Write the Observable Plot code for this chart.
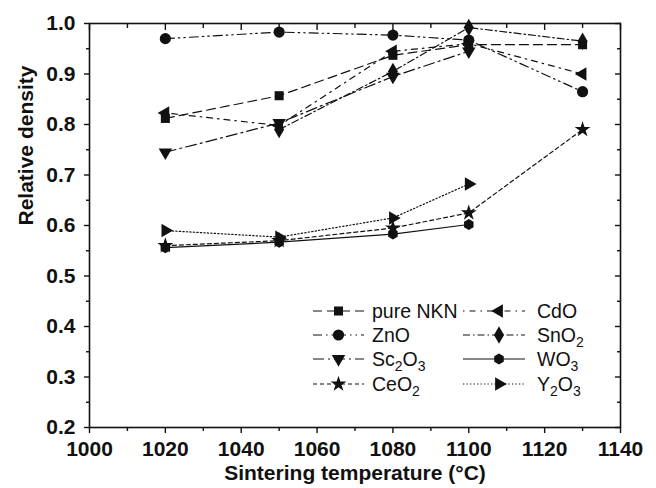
<!DOCTYPE html>
<html>
<head>
<meta charset="utf-8">
<script src="https://cdn.jsdelivr.net/npm/d3@7"></script>
<script src="https://cdn.jsdelivr.net/npm/@observablehq/plot@0.6"></script>
<style>
html,body{margin:0;padding:0;background:#fff;}
svg{display:block;}
</style>
</head>
<body>
<div id="chart"></div>
<script>
// ---- data ----
const temps = [1020, 1050, 1080, 1100, 1130];
const pureNKN = [0.812, 0.857, 0.937, 0.958, 0.958];
const ZnO     = [0.970, 0.983, 0.977, 0.967, 0.865];
const Sc2O3   = [0.745, 0.803, 0.895, 0.945, null];
const CeO2    = [0.560, 0.570, 0.595, 0.625, 0.790];
const CdO     = [0.823, 0.798, 0.945, 0.960, 0.900];
const SnO2    = [null, 0.790, 0.905, 0.992, 0.965];
const WO3     = [0.556, 0.567, 0.583, 0.602, null];
const Y2O3    = [0.590, 0.577, 0.615, 0.682, null];

const xTicks = [1000, 1020, 1040, 1060, 1080, 1100, 1120, 1140];
const xMinor = [1010, 1030, 1050, 1070, 1090, 1110, 1130];
const yTicks = [0.2, 0.3, 0.4, 0.5, 0.6, 0.7, 0.8, 0.9, 1.0];
const yMinor = [0.25, 0.35, 0.45, 0.55, 0.65, 0.75, 0.85, 0.95];

const xLabel = "Sintering temperature (\u00B0C)";
const yLabel = "Relative density";

const hexagon = {
  draw(ctx, size) {
    const r = Math.sqrt(size / (3 * Math.sqrt(3) / 2));
    for (let i = 0; i < 6; i++) {
      const a = Math.PI / 3 * i + Math.PI / 6;
      const px = r * Math.cos(a), py = r * Math.sin(a);
      if (i === 0) ctx.moveTo(px, py); else ctx.lineTo(px, py);
    }
    ctx.closePath();
  }
};

const series = [
  {name: "pure NKN", label: [["pure NKN"]], values: pureNKN, dash: "9,5", symbol: d3.symbolSquare, rotate: 0, r: 5.1},
  {name: "ZnO", label: [["ZnO"]], values: ZnO, dash: "9,4,1.5,4,1.5,4", symbol: d3.symbolCircle, rotate: 0, r: 5.6},
  {name: "Sc2O3", label: [["Sc"],["2","sub"],["O"],["3","sub"]], values: Sc2O3, dash: "11,4,2,4", symbol: d3.symbolTriangle, rotate: 180, r: 5.0},
  {name: "CeO2", label: [["CeO"],["2","sub"]], values: CeO2, dash: "4,3", symbol: d3.symbolStar, rotate: 0, r: 5.0},
  {name: "CdO", label: [["CdO"]], values: CdO, dash: "1.5,5,6,5", symbol: d3.symbolTriangle, rotate: -90, r: 5.0},
  {name: "SnO2", label: [["SnO"],["2","sub"]], values: SnO2, dash: "7,3,1.5,3", symbol: d3.symbolDiamond, rotate: 0, r: 5.3},
  {name: "WO3", label: [["WO"],["3","sub"]], values: WO3, dash: null, symbol: hexagon, rotate: 0, r: 5.0},
  {name: "Y2O3", label: [["Y"],["2","sub"],["O"],["3","sub"]], values: Y2O3, dash: "1.3,2.2", symbol: d3.symbolTriangle, rotate: 90, r: 5.0}
];

function rows(s) {
  return temps.map((t, i) => ({t, v: s.values[i]})).filter(d => d.v != null);
}

const font = "Liberation Sans, Arial, Helvetica, sans-serif";
const marks = [];

for (const s of series) {
  marks.push(Plot.line(rows(s), {x: "t", y: "v", stroke: "#111", strokeWidth: 1.2, strokeDasharray: s.dash || undefined}));
}
for (const s of series) {
  marks.push(Plot.dot(rows(s), {x: "t", y: "v", symbol: s.symbol, r: s.r, rotate: s.rotate, fill: "#111", stroke: "none"}));
}

marks.push(
  Plot.axisX({anchor: "bottom", ticks: xTicks, tickSize: 6, tickPadding: 8, tickFormat: d => String(d), fontSize: 21, fontWeight: "bold", fontFamily: font, label: null, strokeWidth: 1.4}),
  Plot.axisX({anchor: "bottom", ticks: xMinor, tickSize: 4, text: null, label: null, strokeWidth: 1.4}),
  Plot.axisX({anchor: "top", ticks: xTicks, tickSize: -6, text: null, label: null, strokeWidth: 1.4}),
  Plot.axisX({anchor: "top", ticks: xMinor, tickSize: -4, text: null, label: null, strokeWidth: 1.4}),
  Plot.axisY({anchor: "left", ticks: yTicks, tickSize: 5, tickPadding: 9, tickFormat: d => d.toFixed(1), fontSize: 21, fontWeight: "bold", fontFamily: font, label: null, strokeWidth: 1.4}),
  Plot.axisY({anchor: "left", ticks: yMinor, tickSize: 3, text: null, label: null, strokeWidth: 1.4}),
  Plot.axisY({anchor: "right", ticks: yTicks, tickSize: -6, text: null, label: null, strokeWidth: 1.4}),
  Plot.axisY({anchor: "right", ticks: yMinor, tickSize: -4, text: null, label: null, strokeWidth: 1.4}),
  Plot.frame({stroke: "#111", strokeWidth: 1.6}),
  Plot.text([xLabel], {text: d => d, frameAnchor: "bottom", dy: 46, lineAnchor: "middle", fontSize: 21, fontWeight: "bold", fontFamily: font, fill: "#111"}),
  Plot.text([yLabel], {text: d => d, frameAnchor: "left", dx: -63, rotate: -90, lineAnchor: "middle", fontSize: 21, fontWeight: "bold", fontFamily: font, fill: "#111"})
);

const plot = Plot.plot({
  width: 656,
  height: 488,
  marginLeft: 89,
  marginRight: 36,
  marginTop: 23,
  marginBottom: 61,
  x: {domain: [1000, 1140]},
  y: {domain: [0.2, 1.0]},
  style: {fontFamily: font, color: "#111", background: "#fff", overflow: "visible"},
  marks
});

// ---- legend (inside plot, two columns) ----
const svg = d3.select(plot);
const lg = svg.append("g")
  .style("font-family", font).style("font-size", "19.5px").style("text-anchor", "start")
  .attr("fill", "#111");
const rowY = [311, 335, 359, 384];
const cols = [
  {x0: 313, x1: 364, mx: 338.5, tx: 372},
  {x0: 463, x1: 525, mx: 499, tx: 537}
];
series.forEach((s, i) => {
  const c = cols[Math.floor(i / 4)];
  const y = rowY[i % 4];
  const g = lg.append("g");
  g.append("line").attr("x1", c.x0).attr("x2", c.x1).attr("y1", y).attr("y2", y)
    .attr("stroke", "#111").attr("stroke-width", 1.2)
    .attr("stroke-dasharray", s.dash || null);
  g.append("path").attr("d", d3.symbol(s.symbol, Math.PI * s.r * s.r)())
    .attr("transform", `translate(${c.mx},${y}) rotate(${s.rotate})`).attr("fill", "#111");
  const t = g.append("text").attr("x", c.tx).attr("y", y).attr("dy", "0.35em")
    .style("text-anchor", "start").style("font-size", "19.5px");
  let shifted = false;
  for (const [str, kind] of s.label) {
    const sp = t.append("tspan").text(str);
    if (kind === "sub" && !shifted) { sp.attr("dy", 5).style("font-size", "14px"); shifted = true; }
    else if (kind === "sub") { sp.style("font-size", "14px"); }
    else if (shifted) { sp.attr("dy", -5); shifted = false; }
  }
});

document.getElementById("chart").appendChild(plot);
</script>
</body>
</html>
